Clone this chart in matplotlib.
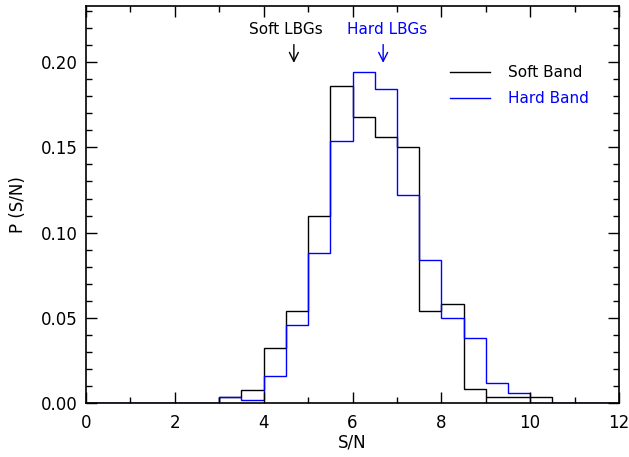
import matplotlib
matplotlib.use("Agg")
import matplotlib.pyplot as plt
import numpy as np
from matplotlib.ticker import MultipleLocator

# bin edges of the S/N histograms (0.5 wide, 0 to 12)
edges = np.arange(0, 12.01, 0.5)

# fractions per bin, starting at S/N = 3.0
soft_vals = [0.0037, 0.0076, 0.032, 0.054, 0.110, 0.186, 0.168, 0.156,
             0.150, 0.054, 0.058, 0.008, 0.0035, 0.0035, 0.0035]
hard_vals = [0.0037, 0.0018, 0.016, 0.046, 0.088, 0.154, 0.194, 0.184,
             0.122, 0.084, 0.050, 0.038, 0.012, 0.006]

soft_lbg = 4.68
hard_lbg = 6.69


def pad(vals, start=3.0):
    full = np.zeros(len(edges) - 1)
    i0 = int(start / 0.5)
    full[i0:i0 + len(vals)] = vals
    return full


plt.rcParams["font.family"] = "DejaVu Sans"
fig = plt.figure(figsize=(6.29, 4.57), dpi=100)
ax = fig.add_axes([86 / 629, 1 - 403 / 457, 533 / 629, 397 / 457])

ax.stairs(pad(soft_vals), edges, color="black", lw=1.0, label="Soft Band")
ax.stairs(pad(hard_vals), edges, color="blue", lw=1.0, label="Hard Band")

ax.set_xlim(0, 12)
ax.set_ylim(0, 0.233)
ax.xaxis.set_major_locator(MultipleLocator(2))
ax.xaxis.set_minor_locator(MultipleLocator(1))
ax.yaxis.set_major_locator(MultipleLocator(0.05))
ax.yaxis.set_minor_locator(MultipleLocator(0.01))
ax.yaxis.set_major_formatter(plt.FormatStrFormatter("%.2f"))
ax.tick_params(which="both", direction="in", top=True, right=True, labelsize=12)
ax.tick_params(which="major", length=8, width=1.0)
ax.tick_params(which="minor", length=4, width=1.0)
ax.tick_params(axis="x", which="major", pad=8)
ax.tick_params(axis="y", which="major", pad=6)
for s in ax.spines.values():
    s.set_linewidth(1.2)

ax.set_xlabel("S/N", fontsize=12, labelpad=1)
ax.set_ylabel("P (S/N)", fontsize=12, labelpad=10)

# arrows marking the LBG values
ax.annotate("", xy=(soft_lbg, 0.198), xytext=(soft_lbg, 0.212),
            arrowprops=dict(arrowstyle="->", color="black", lw=1.0, mutation_scale=16))
ax.text(soft_lbg - 0.19, 0.215, "Soft LBGs", ha="center", va="bottom", fontsize=11, color="black")
ax.annotate("", xy=(hard_lbg, 0.198), xytext=(hard_lbg, 0.212),
            arrowprops=dict(arrowstyle="->", color="blue", lw=1.0, mutation_scale=16))
ax.text(hard_lbg + 0.09, 0.215, "Hard LBGs", ha="center", va="bottom", fontsize=11, color="blue")

leg = ax.legend(loc="upper right", bbox_to_anchor=(0.97, 0.885), frameon=False,
                fontsize=11, handlelength=2.6, handletextpad=1.2, labelspacing=0.7)
for txt, line in zip(leg.get_texts(), leg.get_lines()):
    txt.set_color(line.get_color())

fig.savefig("out.png", dpi=100)
